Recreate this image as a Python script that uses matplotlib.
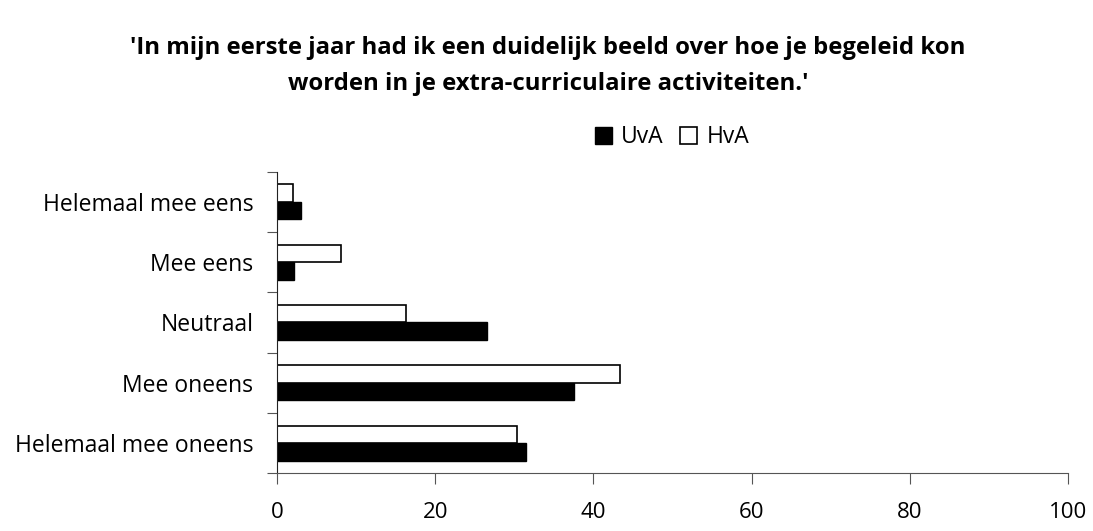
import matplotlib
matplotlib.use("Agg")
import matplotlib.pyplot as plt
import numpy as np

categories = ["Helemaal mee oneens", "Mee oneens", "Neutraal", "Mee eens", "Helemaal mee eens"]
uva = [31.5, 37.5, 26.6, 2.1, 3.0]
hva = [30.4, 43.4, 16.3, 8.1, 2.0]
xticks = [0, 20, 40, 60, 80, 100]
title = "'In mijn eerste jaar had ik een duidelijk beeld over hoe je begeleid kon\nworden in je extra-curriculaire activiteiten.'"

plt.rcParams['font.family'] = ['Open Sans', 'DejaVu Sans']

fig = plt.figure(figsize=(10.93, 5.31), dpi=100)
ax = fig.add_axes([277/1093, 1-473.3/531, (1068-277)/1093, (473.3-171.7)/531])

y = np.arange(len(categories))
h = 0.29
ax.barh(y - h/2, uva, height=h, color='black', edgecolor='black', linewidth=1, label='UvA')
ax.barh(y + h/2, hva, height=h, color='white', edgecolor='black', linewidth=1.2, label='HvA')

ax.set_xlim(0, 100)
ax.set_ylim(-0.5, len(categories) - 0.5)
ax.set_xticks(xticks)
ax.set_xticklabels([str(v) for v in xticks], fontsize=16)
ax.set_yticks(np.arange(-0.5, len(categories), 1.0))
ax.set_yticklabels([])
ax.set_yticks(y, minor=True)
ax.set_yticklabels(categories, minor=True, fontsize=16.5)
ax.tick_params(axis='y', which='minor', length=0, pad=17)
ax.tick_params(axis='y', which='major', length=7, direction='out', color='#555555')
ax.tick_params(axis='x', length=8, direction='out', pad=13, color='#555555')

for s in ['top', 'right']:
    ax.spines[s].set_visible(False)
ax.spines['left'].set_color('#222222')
ax.spines['bottom'].set_color('#555555')

handles, labels = ax.get_legend_handles_labels()
fig.legend(handles, labels, loc='center', bbox_to_anchor=(672/1093, 1-137.5/531), ncol=2,
           frameon=False, fontsize=16.5, handlelength=0.75, handleheight=0.75,
           handletextpad=0.4, columnspacing=0.7, borderpad=0)

fig.text(548/1093, 1-66/531, title, ha='center', va='center', fontsize=17.2,
         fontweight='bold', linespacing=1.65)

fig.savefig("out.png", dpi=100)
